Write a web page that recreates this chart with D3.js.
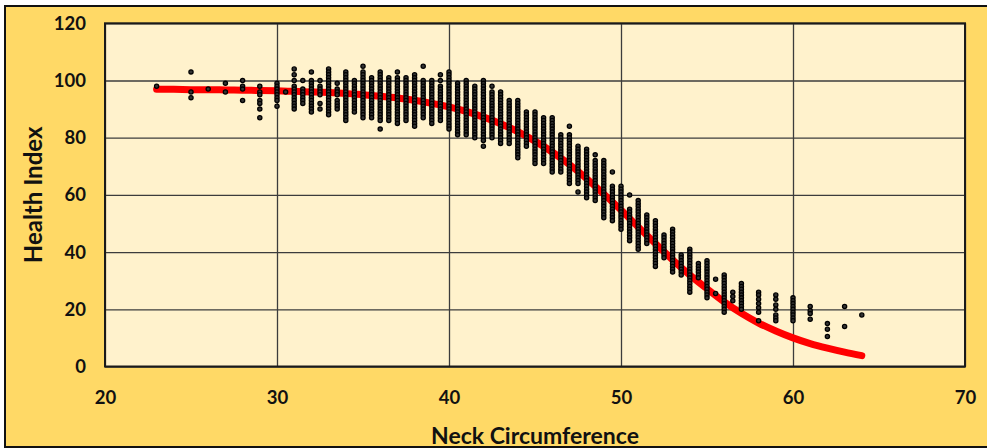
<!DOCTYPE html>
<html>
<head>
<meta charset="utf-8">
<script src="https://cdn.jsdelivr.net/npm/d3@7"></script>
<style>
  html, body { margin: 0; padding: 0; background: #ffffff; }
  svg { display: block; }
</style>
</head>
<body>
<svg id="chart" width="987" height="448"></svg>
<script>
// ---------- data ----------
const xTicks = [20, 30, 40, 50, 60, 70];
const yTicks = [0, 20, 40, 60, 80, 100, 120];
const xTitle = "Neck Circumference";
const yTitle = "Health Index";

// scatter: one column of Health Index values per Neck Circumference value
const neckCircumference = [23,25,26,27,28,29,30,30.5,31,31.5,32,32.5,33,33.5,34,34.5,35,35.5,36,36.5,37,37.5,38,38.5,39,39.5,40,40.5,41,41.5,42,42.5,43,43.5,44,44.5,45,45.5,46,46.5,47,47.5,48,48.5,49,49.5,50,50.5,51,51.5,52,52.5,53,53.5,54,54.5,55,55.5,56,56.5,57,58,59,60,61,62,63,64];
const healthIndex = [
  [98],
  [103,96,94],
  [97],
  [99,96],
  [100,98,97,93],
  [98,96,95,93,92,90,87],
  [99,98,97,96,95,94,93,91],
  [96],
  [104,102,100,98,97,96,95,94,93,92,91,90],
  [100,97,96,95,94,93,92],
  [103,100,99,98,97,96,95,94,93,92,91,90,89],
  [100,98,97,96,95,92,90],
  [104,103,102,101,100,99,98,97,96,95,94,93,92,91,90,89,88],
  [99,97,96,95,93,92,91,90],
  [103,102,101,100,99,98,97,96,95,94,93,92,91,90,89,88,87,86],
  [100,99,98,97,96,95,94,93,92,91,90,89],
  [105,103,102,101,100,99,98,97,96,95,94,93,92,91,90,89,88,87],
  [101,100,99,98,97,96,95,94,93,92,91,90,89,88,87],
  [103,102,101,100,99,98,97,96,95,94,93,92,91,90,89,88,87,86,83],
  [101,100,99,98,97,96,95,94,93,92,91,90,89,88,87,86],
  [103,101,100,99,98,97,96,95,94,93,92,91,90,89,88,87,86,85],
  [101,100,99,98,97,96,95,94,93,92,91,90,89,88,87,86],
  [102,101,100,99,98,97,96,95,94,93,92,91,90,89,88,87,86,85,84],
  [105,100,99,98,97,96,95,94,93,92,91,90,89,88,87],
  [100,99,98,97,96,95,94,93,92,91,90,89,88,87,86,85],
  [102,100,98,97,96,95,94,93,92,91,90,89,88,87,86],
  [103,102,101,100,99,98,97,96,95,94,93,92,91,90,89,88,87,86,85,84,83],
  [99,98,97,96,95,94,93,92,91,90,89,88,87,86,85,84,83,82,81],
  [100,99,98,97,96,95,94,93,92,91,90,89,88,87,86,85,84,83,82,81],
  [98,97,96,95,94,93,92,91,90,89,88,87,86,85,84,83,82,81,80],
  [100,99,98,97,96,95,94,93,92,91,90,89,88,87,86,85,84,83,82,81,80,79,77],
  [98,96,95,94,93,92,91,90,89,88,87,86,85,84,83,82,81,80],
  [96,95,94,93,92,91,90,89,88,87,86,85,84,83,82,81,80,79,78],
  [93,92,91,90,89,88,87,86,85,84,83,82,81,80,79,78],
  [93,92,91,90,89,88,87,86,85,84,83,82,81,80,79,78,77,76,75,74,73],
  [89,88,87,86,85,84,83,82,81,80,79,78,77],
  [89,88,87,86,85,84,83,82,81,80,79,78,77,76,75,74,73,72,71],
  [87,86,85,84,83,82,81,80,79,78,77,76,75,74,73,72,71],
  [87,86,85,84,83,82,81,80,79,78,77,76,75,74,73,72,71,70,69,68],
  [81,80,79,78,77,76,75,74,73,72,71,70,69,68],
  [84,81,80,79,78,77,76,75,74,73,72,71,70,69,68,67,66,65,64],
  [77,76,75,74,73,72,71,70,69,68,67,66,65,64,61],
  [76,75,74,73,72,71,70,69,68,67,66,65,64,63,62,61,60,59],
  [74,72,71,70,69,68,67,66,65,64,63,62,61,60,59,58],
  [72,71,70,69,68,67,66,65,64,63,62,61,60,59,58,57,56,55,54,53,52],
  [68,63,62,61,60,59,58,57,56,55,54,53,52,51],
  [63,62,61,60,59,58,57,56,55,54,53,52,51,50,49,48],
  [60,55,54,53,52,51,50,49,48,47,46,45,44],
  [58,57,56,55,54,53,52,51,50,49,48,47,46,45,44,43,42,41],
  [53,52,51,50,49,48,47,46,45,44,43],
  [51,50,49,48,47,46,45,44,43,42,41,40,39,38,37,36,35],
  [46,45,44,43,42,41,40,39,38],
  [48,47,46,45,44,43,42,41,40,39,38,37,36,35,34,33],
  [39,38,37,36,35,34,33,32],
  [41,40,39,38,37,36,35,34,33,32,31,30,29,28,27,26],
  [36,35,34,33,32,31],
  [37,36,35,34,33,32,31,30,29,28,27,26,25,24],
  [30.5,25.5],
  [32,31,30,29,28,27,26,25,24,23,22,21,20,19],
  [26,24.5,23],
  [29,28,27,26,25,24,23,22,21,20],
  [26,25,23.5,22,20.5,19,16],
  [25,23.5,21.5,20,18,17,16],
  [24,23,22,21,20,19,18,17,16],
  [21,19.5,18.5,16.5],
  [15,13,10.5],
  [21,14],
  [18]
];

// fitted trend curve (red)
const fitNeck = [23,24,25,26,27,28,29,30,31,32,33,34,35,36,37,38,39,40,41,42,43,44,45,46,47,48,49,50,51,52,53,54,55,56,57,58,59,60,61,62,63,64];
const fitHealth = [96.9,96.9,96.8,96.8,96.7,96.6,96.5,96.4,96.2,96.0,95.8,95.5,95.0,94.5,93.9,93.1,92.0,90.8,89.2,87.2,84.9,82.1,78.8,75.0,70.6,65.7,60.3,54.7,48.8,43.0,37.3,32.0,27.2,22.6,18.6,15.2,12.4,10.0,8.0,6.4,5.0,3.8];

// ---------- chart ----------
const W = 987, H = 448;
const plot = { left: 105, right: 965, top: 23.3, bottom: 366.5 };

const svg = d3.select("#chart");

// outer chart area
svg.append("rect")
  .attr("x", 5).attr("y", 6)
  .attr("width", W + 10).attr("height", 441)
  .attr("fill", "#FFD966")
  .attr("stroke", "#111").attr("stroke-width", 2);

const x = d3.scaleLinear().domain([20, 70]).range([plot.left, plot.right]);
const y = d3.scaleLinear().domain([0, 120]).range([plot.bottom, plot.top]);

// plot background
svg.append("rect")
  .attr("x", plot.left).attr("y", plot.top)
  .attr("width", plot.right - plot.left).attr("height", plot.bottom - plot.top)
  .attr("fill", "#FFF2CC");

// gridlines via axes
const gx = svg.append("g")
  .attr("transform", `translate(0,${plot.bottom})`)
  .call(d3.axisBottom(x).tickValues(xTicks).tickSize(-(plot.bottom - plot.top)).tickFormat(""));
gx.select(".domain").remove();
gx.selectAll("line").attr("stroke", "#3c3c3c").attr("stroke-width", 1.3);

const gy = svg.append("g")
  .attr("transform", `translate(${plot.left},0)`)
  .call(d3.axisLeft(y).tickValues(yTicks).tickSize(-(plot.right - plot.left)).tickFormat(""));
gy.select(".domain").remove();
gy.selectAll("line").attr("stroke", "#3c3c3c").attr("stroke-width", 1.3);

// plot border
svg.append("rect")
  .attr("x", plot.left).attr("y", plot.top)
  .attr("width", plot.right - plot.left).attr("height", plot.bottom - plot.top)
  .attr("fill", "none")
  .attr("stroke", "#1a1a1a").attr("stroke-width", 2);

// red trend line
const fitData = d3.zip(fitNeck, fitHealth);
svg.append("path")
  .datum(fitData)
  .attr("fill", "none")
  .attr("stroke", "#FF0000")
  .attr("stroke-width", 7)
  .attr("stroke-linecap", "round")
  .attr("stroke-linejoin", "round")
  .attr("d", d3.line().x(d => x(d[0])).y(d => y(d[1])).curve(d3.curveMonotoneX));

// scatter points
const pts = neckCircumference.flatMap((nc, i) => healthIndex[i].map(h => [nc, h]));
svg.append("g")
  .selectAll("circle")
  .data(pts)
  .join("circle")
  .attr("cx", d => x(d[0]))
  .attr("cy", d => y(d[1]))
  .attr("r", 2.1)
  .attr("fill", "#333")
  .attr("stroke", "#000")
  .attr("stroke-width", 1.3);

// tick labels via axes
const fontFam = "Lato, 'Open Sans', sans-serif";
const ax = svg.append("g")
  .attr("transform", `translate(0,${plot.bottom})`)
  .call(d3.axisBottom(x).tickValues(xTicks).tickSize(0).tickPadding(24).tickFormat(d3.format("d")));
ax.select(".domain").remove();
ax.selectAll("text")
  .attr("font-family", fontFam).attr("font-weight", "bold")
  .attr("font-size", 18.5).attr("fill", "#111");

const ay = svg.append("g")
  .attr("transform", `translate(${plot.left},0)`)
  .call(d3.axisLeft(y).tickValues(yTicks).tickSize(0).tickPadding(19).tickFormat(d3.format("d")));
ay.select(".domain").remove();
ay.selectAll("text")
  .attr("font-family", fontFam).attr("font-weight", "bold")
  .attr("font-size", 18.5).attr("fill", "#111");

// axis titles
svg.append("text")
  .attr("transform", `translate(34,${(plot.top + plot.bottom) / 2}) rotate(-90)`)
  .attr("text-anchor", "middle")
  .attr("dy", "0.35em")
  .attr("font-family", fontFam).attr("font-weight", "bold")
  .attr("font-size", 24).attr("fill", "#111")
  .text(yTitle);

svg.append("text")
  .attr("x", (plot.left + plot.right) / 2)
  .attr("y", 444)
  .attr("text-anchor", "middle")
  .attr("font-family", fontFam).attr("font-weight", "bold")
  .attr("font-size", 23).attr("fill", "#111")
  .text(xTitle);
</script>
</body>
</html>
